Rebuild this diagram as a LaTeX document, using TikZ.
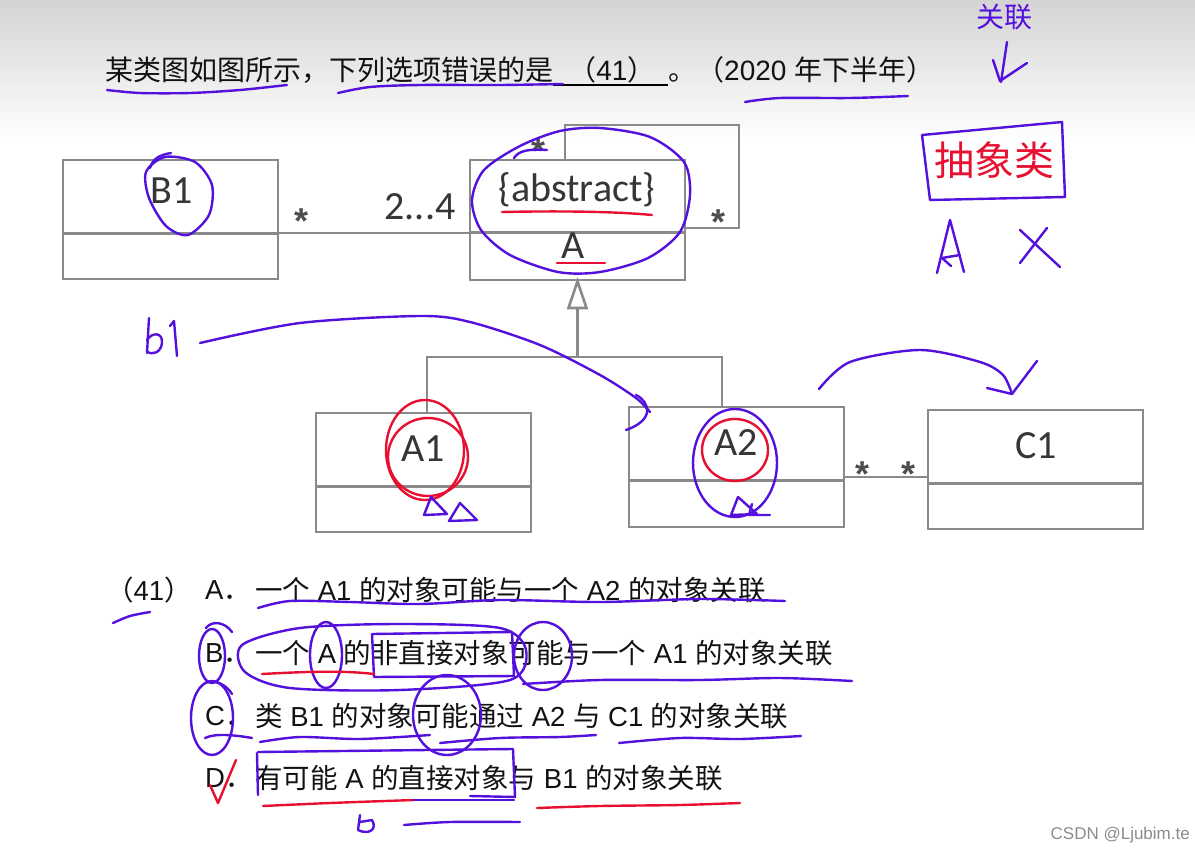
\documentclass[tikz,border=0pt]{standalone}
\usepackage{fontspec}
\setmainfont{Liberation Sans}
\newfontfamily\cjk{Noto Sans CJK SC}
\newfontfamily\calib{Carlito}
\usetikzlibrary{arrows.meta,calc}
\definecolor{penc}{RGB}{84,16,220}
\definecolor{rpenc}{RGB}{232,16,48}
\definecolor{boxgray}{RGB}{138,138,138}
\definecolor{ink}{RGB}{18,18,18}
\tikzset{
  cls/.style={draw=boxgray, line width=2.6pt, minimum width=215pt, minimum height=119pt, inner sep=0},
  cline/.style={draw=boxgray, line width=2.6pt},
  cname/.style={font=\calib\fontsize{40}{48}\selectfont, text=ink!85, inner sep=0},
  astx/.style={font=\bfseries\fontsize{36}{40}\selectfont, text=ink!75, inner sep=0, anchor=base},
  txt/.style={anchor=west, inner sep=0, text=ink, font=\fontsize{27.5}{33}\selectfont},
  qtxt/.style={anchor=west, inner sep=0, text=ink, font=\fontsize{28}{34}\selectfont},
  pen/.style={draw=penc, line width=2.4pt, line cap=round, line join=round},
  rpen/.style={draw=rpenc, line width=2.4pt, line cap=round, line join=round},
  hand/.style={inner sep=0, text=penc},
}
\begin{document}
\begin{tikzpicture}[x=1pt,y=-1pt]
\useasboundingbox (0,0) rectangle (1195,854);
\fill[white] (0,0) rectangle (1195,854);
\shade[top color=black!17, bottom color=white] (0,0) rectangle (1195,140);

% ---------- question ----------
\node[qtxt] (q1) at (105,70) {\cjk 某类图如图所示，下列选项错误的是};
\node[qtxt, anchor=center] (q2) at (612,70) {{\cjk （}41{\cjk ）}};
\node[qtxt] (q3) at (668,70) {{\cjk 。（}2020 {\cjk 年下半年）}};
\draw[black, line width=2pt] (q1.east |- 0,85) -- (q3.west |- 0,85);

% ---------- class boxes ----------
\node[cls] (B1) at (170.5,219.5) {};
\node[cls, minimum height=120pt] (A) at (577.5,220) {};
\node[cls] (A1) at (423.5,472.5) {};
\node[cls, minimum height=120pt] (A2) at (736.5,467) {};
\node[cls] (C1) at (1035.5,469.5) {};
\foreach \b/\f in {B1/0.613, A/0.6, A1/0.613, A2/0.608, C1/0.613}{
  \draw[cline] ($(\b.north west)!\f!(\b.south west)$) -- ($(\b.north east)!\f!(\b.south east)$);
}
\node[cname] (B1n) at (172,191) {B1};
\node[cname] (An1) at (577,190) {\{abstract\}};
\node[cname] (An2) at (573,246) {A};
\node[cname] (A1n) at (423,449) {A1};
\node[cname] (A2n) at (736,443) {A2};
\node[cname] (C1n) at (1036,446) {C1};

% association B1 -- A
\coordinate (ab) at (0,233);
\draw[cline] (B1.east |- ab) -- (A.west |- ab);
\node[astx] (s1) at (302,233) {*};
\node[cname] (m24) at (420,207) {2...4};

% self association of A
\coordinate (l1) at (565,125);
\coordinate (l2) at (739,228);
\draw[cline] (A.north -| l1) -- (l1) -- (l1 -| l2) -- (l2) -- (l2 -| A.east);
\node[astx] (s2) at (539,163) {*};
\node[astx] (s3) at (718,234) {*};

% generalization
\coordinate (j1) at (427,357);
\coordinate (j2) at (722,357);
\coordinate (tb) at (0,308);
\draw[cline] (j1 |- A1.north) -- (j1) -- (j2) -- (j2 |- A2.north);
\draw[cline] (A.south |- j1) -- (A.south |- tb);
\draw[cline, fill=white] (A.south) -- ([xshift=-9pt]A.south |- tb) -- ([xshift=9pt]A.south |- tb) -- cycle;

% association A2 -- C1
\coordinate (ac) at (0,477);
\draw[cline] (A2.east |- ac) -- (C1.west |- ac);
\node[astx] (s4) at (862,486) {*};
\node[astx] (s5) at (908,486) {*};

% ---------- options ----------
\node[txt] (o0) at (106,590) {{\cjk （}41{\cjk ）}};
\node[txt] (oA) at (205,590) {A{\cjk ．}};
\node[txt] (tA) at (255,590) {{\cjk 一个} A1 {\cjk 的对象可能与一个} A2 {\cjk 的对象关联}};
\node[txt] (oB) at (205,653) {B{\cjk ．}};
\node[txt] (tB) at (255,653) {{\cjk 一个} A {\cjk 的非直接对象可能与一个} A1 {\cjk 的对象关联}};
\node[txt] (oC) at (205,716) {C{\cjk ．}};
\node[txt] (tC) at (255,716) {{\cjk 类} B1 {\cjk 的对象可能通过} A2 {\cjk 与} C1 {\cjk 的对象关联}};
\node[txt] (oD) at (205,778) {D{\cjk ．}};
\node[txt] (tD) at (255,778) {{\cjk 有可能} A {\cjk 的直接对象与} B1 {\cjk 的对象关联}};

\node[anchor=east, inner sep=0, text=black!45, font=\fontsize{17}{20}\selectfont] (wm) at (1190,835) {CSDN @Ljubim.te};

% ---------- handwriting ----------
% question underlines
\draw[pen] plot[smooth] coordinates {(107,90) (140,93) (190,93) (240,90) (287,85)};
\draw[pen] plot[smooth] coordinates {(338,93) (370,87) (420,85) (500,85) (563,84)};
\draw[pen] plot[smooth] coordinates {(745,102) (780,98) (850,98) (908,96)};
% top right
\node[hand, font=\cjk\fontsize{28}{32}\selectfont] (gl) at (1004,17) {关联};
\draw[pen] (1007,42) -- (1001,82);
\draw[pen] (993,60) -- (1000,81) -- (1027,63);
\draw[pen] (922,135) -- (1062,122) -- (1065,197) -- (930,200) -- (922,135);
\node[inner sep=0, text=rpenc, font=\cjk\fontsize{40}{44}\selectfont] (cx) at (994,160) {抽象类};
% handwritten A and X
\draw[pen] (937,273) -- (950,220) -- (964,272);
\draw[pen] (960,255) -- (942,258) -- (951,266);
\draw[pen] (1020,230) -- (1060,267);
\draw[pen] (1047,228) -- (1020,263);
% B1 loop
\draw[pen] plot[smooth cycle] coordinates {(165,157) (195,162) (212,185) (209,215) (188,235) (166,226) (149,198) (146,172)};
\draw[pen] (150,168) .. controls (153,158) and (160,155) .. (171,153);
% A loop
\draw[pen] plot[smooth cycle] coordinates {(520,146) (560,131) (600,128) (650,137) (684,162) (690,195) (680,232) (648,258) (600,272) (558,272) (510,255) (481,230) (472,200) (484,170)};
\draw[pen] (514,158) .. controls (519,150) and (530,149) .. (547,150);
\draw[rpen] (502,212) .. controls (550,211) and (610,211) .. (652,215);
\draw[rpen] (557,263) -- (605,263);
% handwritten b1 and curve
\draw[pen] (149,318) -- (147,353);
\draw[pen] (147,340) .. controls (152,332) and (163,332) .. (162,343) .. controls (161,353) and (152,355) .. (147,352);
\draw[pen] (170,326) -- (174,321) -- (177,356);
\draw[pen] plot[smooth] coordinates {(200,343) (300,323) (420,316) (470,322) (540,345) (600,375) (636,398) (650,412)};
\draw[pen] (636,395) .. controls (650,402) and (655,420) .. (626,430);
% curve to C1
\draw[pen] plot[smooth] coordinates {(819,389) (850,362) (920,350) (980,362) (1003,375) (1012,394)};
\draw[pen] (987,388) -- (1012,394) -- (1037,361);
% A1 red circles
\draw[rpen] (425,450) ellipse [x radius=39, y radius=50];
\draw[rpen] (428,457) ellipse [x radius=40, y radius=39];
\draw[pen] (431,497) -- (424,515) -- (447,514) -- cycle;
\draw[pen] (460,503) -- (449,521) -- (477,520) -- cycle;
% A2 circles
\draw[pen] (735,463) ellipse [x radius=42, y radius=54];
\draw[rpen] (735,450) ellipse [x radius=33, y radius=31];
\draw[pen] (738,497) -- (731,515) -- (757,514) -- cycle;
\draw[pen] (752,504) -- (749,515) -- (770,515);
% option A
\draw[pen] plot[smooth] coordinates {(258,608) (290,601) (350,602) (420,604) (500,600) (600,602) (700,599) (785,601)};
\draw[pen] plot[smooth] coordinates {(113,623) (130,616) (150,612)};
% option B
\draw[pen] (212,656) ellipse [x radius=13, y radius=27];
\draw[pen] (206,628) .. controls (212,620) and (225,622) .. (232,632);
\draw[pen] (205,683) .. controls (214,679) and (226,684) .. (232,694);
\draw[pen] plot[smooth cycle] coordinates {(300,628) (400,624) (500,628) (526,650) (510,680) (400,690) (290,688) (245,672) (242,645)};
\draw[pen] (326,655) ellipse [x radius=16, y radius=33];
\draw[pen] (372,634) -- (512,632) -- (514,676) -- (374,677) -- (372,634);
\draw[pen] (543,656) ellipse [x radius=29, y radius=34];
\draw[rpen] (262,674) .. controls (300,672) and (340,670) .. (374,674);
\draw[pen] plot[smooth] coordinates {(523,684) (600,680) (700,680) (780,678) (852,681)};
% option C
\draw[pen] (212,718) ellipse [x radius=21, y radius=37];
\draw[pen] (447,715) ellipse [x radius=34, y radius=40];
\draw[pen] (205,738) .. controls (215,733) and (235,735) .. (252,738);
\draw[pen] plot[smooth] coordinates {(260,742) (300,737) (360,739) (430,735)};
\draw[pen] plot[smooth] coordinates {(440,743) (500,738) (560,737) (596,735)};
\draw[pen] plot[smooth] coordinates {(619,743) (680,738) (740,739) (801,736)};
% option D
\draw[rpen] (210,785) -- (218,803) -- (236,760);
\draw[pen] (258,795) -- (257,753);
\draw[pen] (258,752) -- (513,749) -- (515,797) -- (470,796);
\draw[rpen] plot[smooth] coordinates {(263,806) (330,803) (414,800)};
\draw[pen] (414,800) -- (514,800);
\draw[rpen] plot[smooth] coordinates {(537,808) (600,806) (680,805) (740,803)};
\draw[pen] (360,815) -- (358,830) .. controls (368,835) and (378,830) .. (372,820) -- (360,822);
\draw[pen] plot[smooth] coordinates {(404,825) (450,822) (520,822)};
\end{tikzpicture}
\end{document}
